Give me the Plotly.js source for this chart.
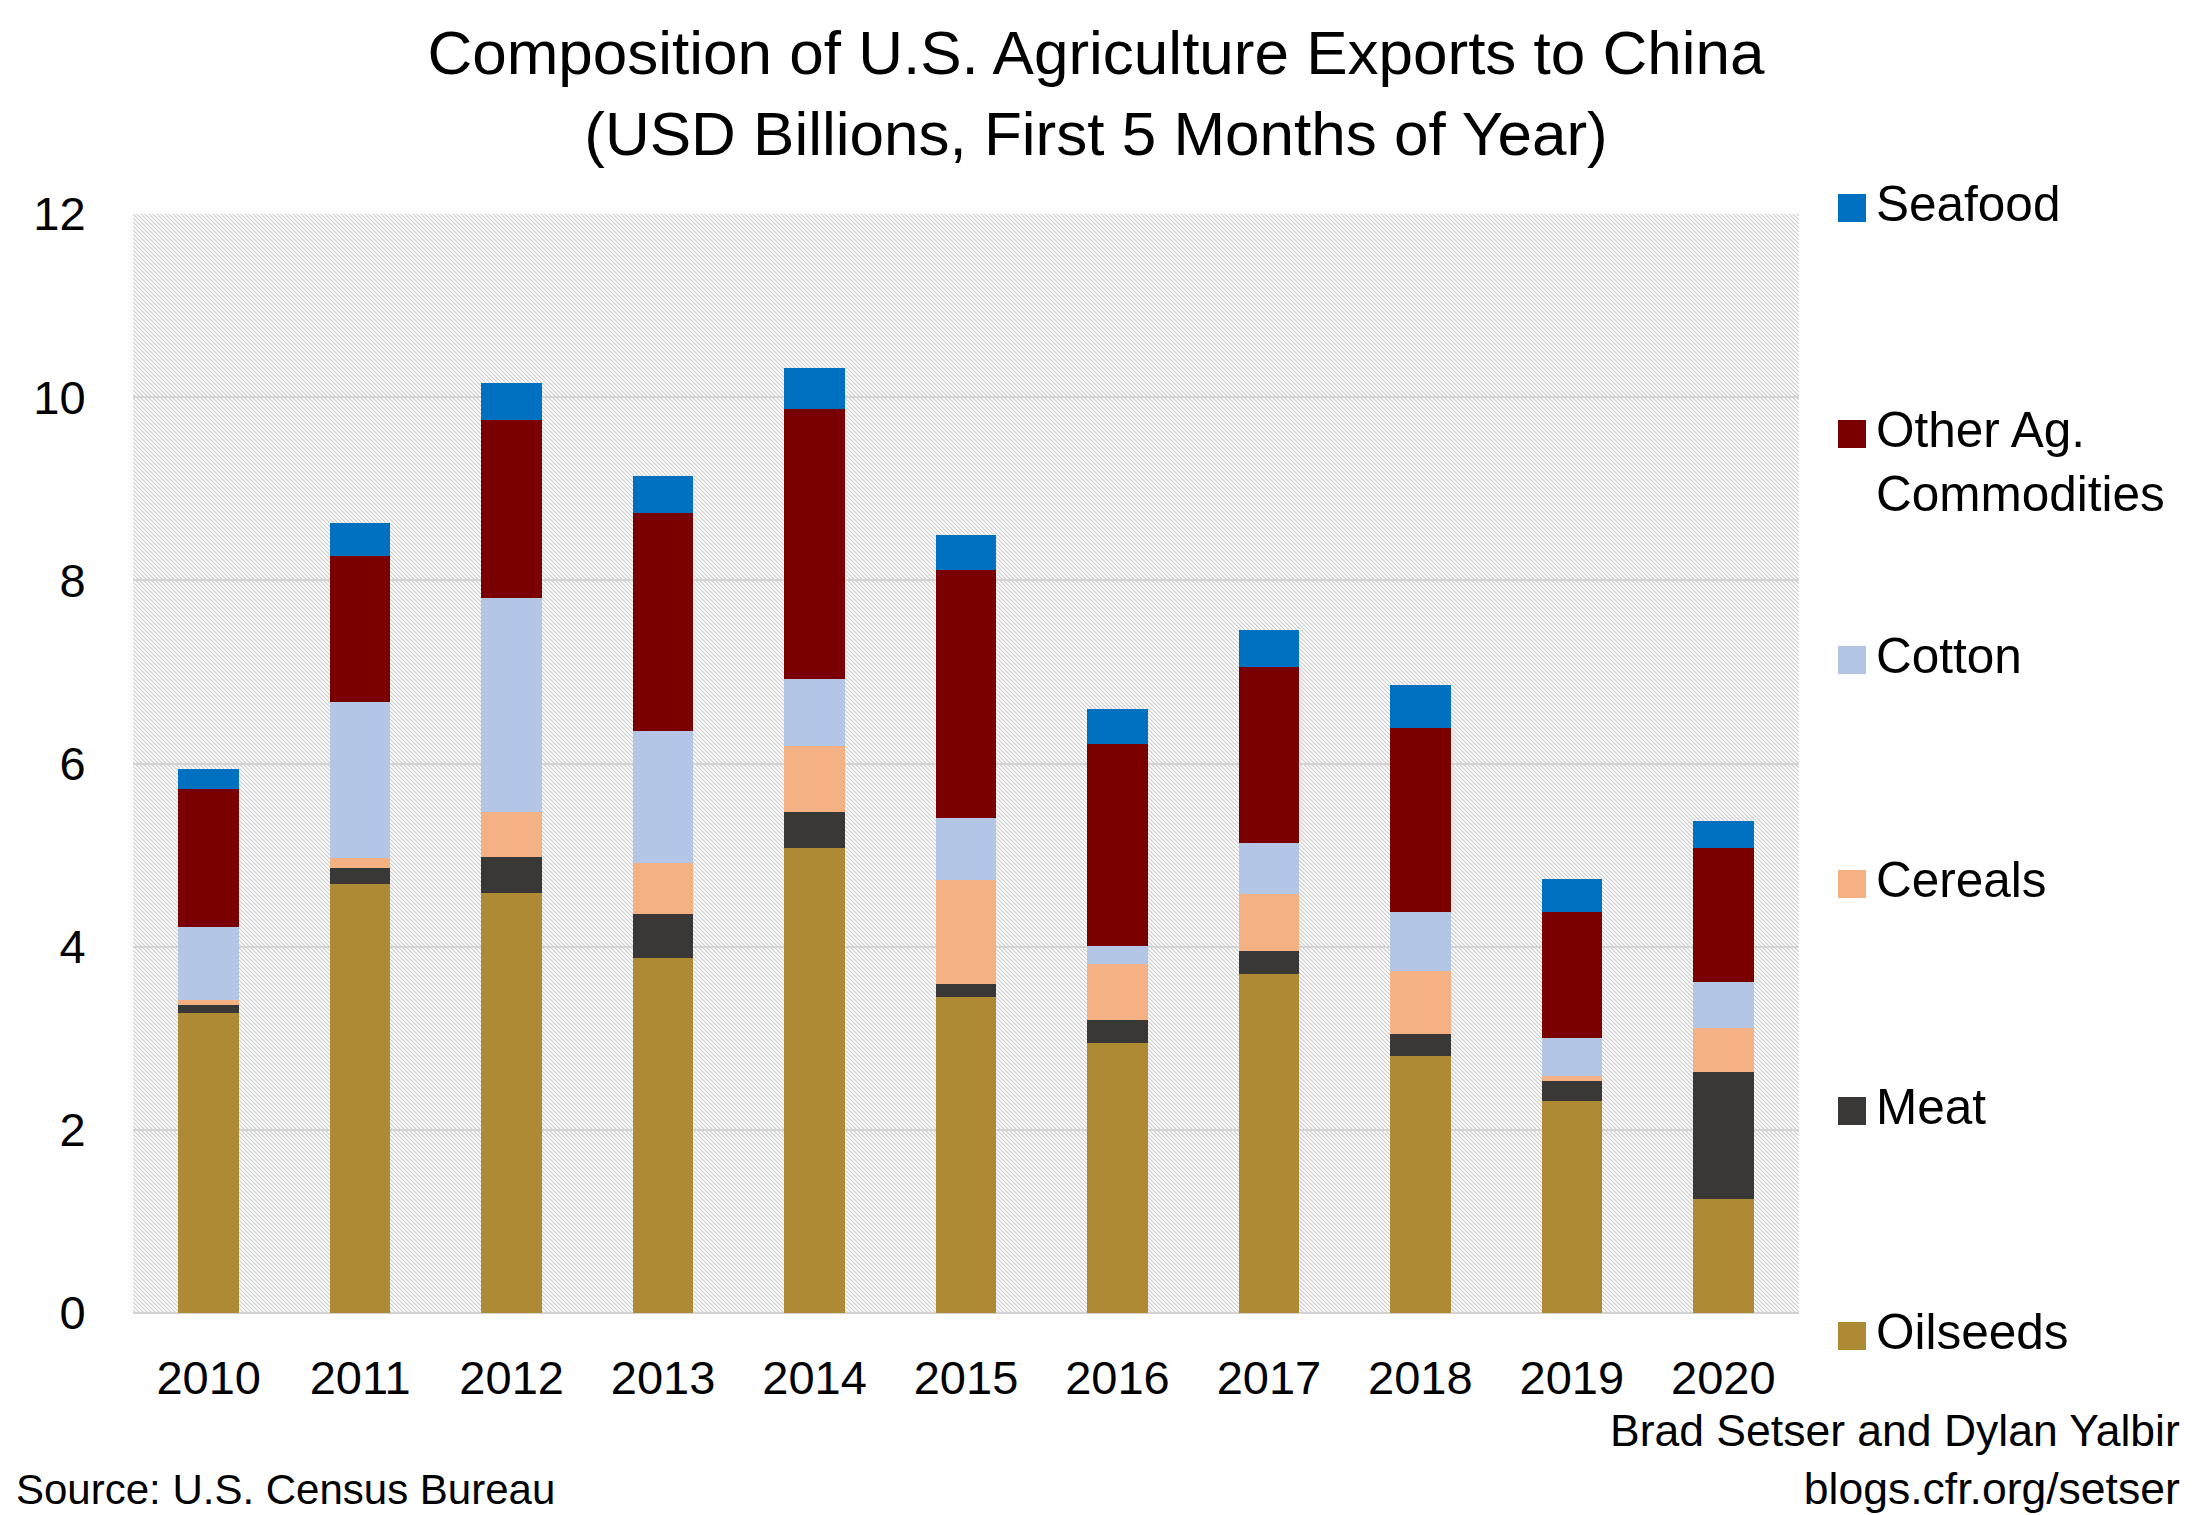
<!DOCTYPE html>
<html>
<head>
<meta charset="utf-8">
<script src="https://cdn.plot.ly/plotly-3.0.1.min.js"></script>
<style>html,body{margin:0;padding:0;background:#fff}#chart{width:2192px;height:1515px}</style>
</head>
<body>
<div id="chart"></div>
<script>
// ---- data (USD billions, first 5 months of year) ----
const years = ['2010','2011','2012','2013','2014','2015','2016','2017','2018','2019','2020'];
const oilseeds = [3.28, 4.68, 4.59, 3.88, 5.08, 3.45, 2.95, 3.70, 2.81, 2.31, 1.24];
const meat     = [0.08, 0.18, 0.39, 0.48, 0.39, 0.14, 0.25, 0.25, 0.24, 0.22, 1.39];
const cereals  = [0.06, 0.11, 0.49, 0.55, 0.72, 1.14, 0.61, 0.63, 0.68, 0.055, 0.48];
const cotton   = [0.80, 1.70, 2.34, 1.45, 0.73, 0.68, 0.20, 0.55, 0.65, 0.42, 0.50];
const otherAg  = [1.50, 1.60, 1.94, 2.38, 2.95, 2.70, 2.20, 1.92, 2.01, 1.37, 1.47];
const seafood  = [0.22, 0.36, 0.41, 0.40, 0.45, 0.39, 0.38, 0.41, 0.47, 0.36, 0.29];
const seriesNames = ['Oilseeds','Meat','Cereals','Cotton','Other Ag.<br>Commodities','Seafood'];
const seriesColors = ['#AE8A35','#3A3836','#F4B183','#B4C6E6','#7A0000','#0070C0'];
const yTicks = [0, 2, 4, 6, 8, 10, 12];

const seriesValues = [oilseeds, meat, cereals, cotton, otherAg, seafood];

// ---- figure geometry ----
const W = 2192, H = 1515;
const M = {l: 133, r: 393, t: 214, b: 202};
const plotW = W - M.l - M.r, plotH = H - M.t - M.b;
const pyToPaper = py => (H - M.b - py) / plotH;
const pxToPaper = px => (px - M.l) / plotW;

const mainFont = 'Liberation Sans, Arial, sans-serif';

const traces = seriesValues.map((vals, i) => ({
  type: 'bar',
  name: seriesNames[i].replace('<br>', ' '),
  x: years,
  y: vals,
  marker: {color: seriesColors[i], line: {width: 0}},
  showlegend: false,
  hoverinfo: 'x+y+name'
}));

// hatched plot background
const hatch = "<svg xmlns='http://www.w3.org/2000/svg' width='" + plotW + "' height='" + plotH + "'>" +
  "<defs><pattern id='p' width='4' height='4' patternUnits='userSpaceOnUse'>" +
  "<rect width='4' height='4' fill='#ffffff'/>" +
  "<path d='M-1,-1 L5,5 M3,-1 L5,1 M-1,3 L1,5' stroke='#cbcbcb' stroke-width='1.1'/>" +
  "</pattern></defs><rect width='100%' height='100%' fill='url(#p)'/></svg>";
const hatchURI = 'data:image/svg+xml;charset=utf-8,' + encodeURIComponent(hatch);

// custom legend (top item = last series)
const legendCentersPx = [1332, 1107, 880, 656, 430, 204];
const shapes = [];
const annotations = [];
seriesNames.forEach((nm, i) => {
  const cy = legendCentersPx[i];
  shapes.push({
    type: 'rect', xref: 'paper', yref: 'paper',
    x0: pxToPaper(1838), x1: pxToPaper(1866),
    y0: pyToPaper(cy + 18), y1: pyToPaper(cy - 10),
    fillcolor: seriesColors[i], line: {width: 0}
  });
  annotations.push({
    xref: 'paper', yref: 'paper',
    x: pxToPaper(1874), y: pyToPaper(cy - 30),
    xanchor: 'left', yanchor: 'top', align: 'left',
    text: nm, showarrow: false,
    font: {family: mainFont, size: 49.5, color: '#000'}
  });
});
annotations.push({
  xref: 'paper', yref: 'paper', x: pxToPaper(14), y: pyToPaper(1515),
  xanchor: 'left', yanchor: 'bottom', align: 'left', showarrow: false,
  text: 'Source: U.S. Census Bureau',
  font: {family: mainFont, size: 42, color: '#000'}
});
annotations.push({
  xref: 'paper', yref: 'paper', x: pxToPaper(2182), y: pyToPaper(1515),
  xanchor: 'right', yanchor: 'bottom', align: 'right', showarrow: false,
  text: 'Brad Setser and Dylan Yalbir<br>blogs.cfr.org/setser',
  font: {family: mainFont, size: 44.5, color: '#000'}
});

const layout = {
  width: W, height: H,
  margin: M,
  paper_bgcolor: '#ffffff',
  plot_bgcolor: 'rgba(0,0,0,0)',
  barmode: 'stack',
  bargap: 0.6,
  title: {
    text: 'Composition of U.S. Agriculture Exports to China<br>(USD Billions, First 5 Months of Year)',
    font: {family: mainFont, size: 62, color: '#000'},
    x: 0.5, xref: 'container', xanchor: 'center',
    y: 0.951, yref: 'container', yanchor: 'top'
  },
  xaxis: {
    type: 'category',
    showgrid: false, showline: false, zeroline: false,
    ticks: 'outside', ticklen: 24, tickcolor: 'rgba(0,0,0,0)',
    tickfont: {family: mainFont, size: 47, color: '#000'}
  },
  yaxis: {
    range: [0, 12],
    tickvals: yTicks,
    showgrid: true, gridcolor: '#d3d3d3', gridwidth: 2,
    zeroline: true, zerolinecolor: '#d3d3d3', zerolinewidth: 2,
    showline: false,
    ticks: 'outside', ticklen: 37, tickcolor: 'rgba(0,0,0,0)',
    tickfont: {family: mainFont, size: 47, color: '#000'}
  },
  images: [{
    source: hatchURI, xref: 'paper', yref: 'paper',
    x: 0, y: 1, sizex: 1, sizey: 1, xanchor: 'left', yanchor: 'top',
    sizing: 'stretch', layer: 'below'
  }],
  shapes: shapes,
  annotations: annotations
};

Plotly.newPlot('chart', traces, layout, {displayModeBar: false, staticPlot: true});
</script>
</body>
</html>
